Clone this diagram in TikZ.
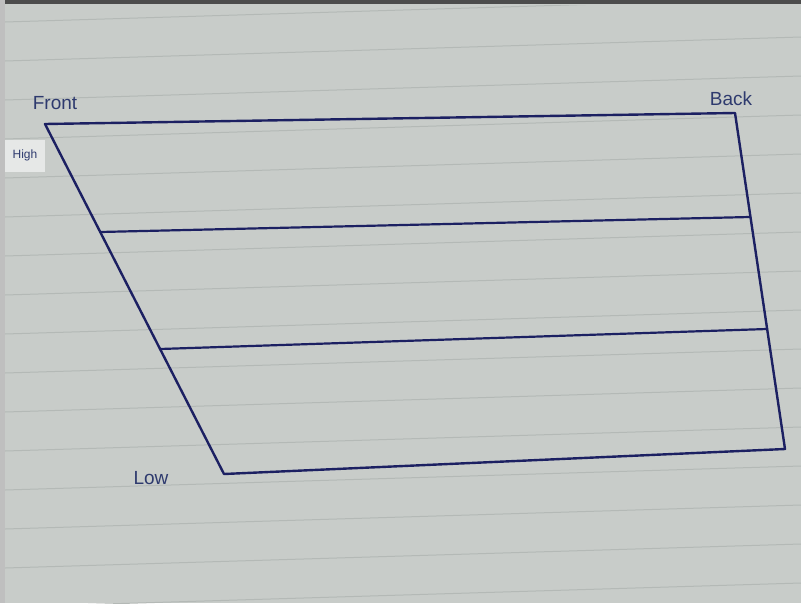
\documentclass[tikz,border=0pt]{standalone}
\usepackage{fontspec}
\setmainfont{Liberation Sans}
\definecolor{paper}{HTML}{C8CCC9}
\definecolor{rule}{HTML}{B4B9B6}
\definecolor{ink}{HTML}{1C2062}
\definecolor{pencil}{HTML}{2E3A6E}
\begin{document}
\begin{tikzpicture}[x=1pt,y=-1pt,
  outline/.style={draw=ink,line width=2.4pt,line join=round,line cap=round},
  divider/.style={draw=ink,line width=2.2pt,line cap=round},
  lbl/.style={text=pencil,font=\fontsize{19}{19}\selectfont,inner sep=0pt},
  smalllbl/.style={text=pencil,font=\fontsize{12}{12}\selectfont,inner sep=0pt}]
\useasboundingbox (0,0) rectangle (801,603);
\fill[paper] (0,0) rectangle (801,603);
% ruled lines of the paper
\begin{scope}
\clip (5,5) rectangle (801,603);
\foreach \k in {0,...,16}{
  \draw[rule,line width=1pt] (5,{22+39*\k}) -- (801,{22+39*\k-24});
}
\end{scope}
\fill[black!70] (0,0) rectangle (801,4);
\fill[black!25] (0,0) rectangle (5,603);
\fill[white!55!paper] (5,140) rectangle (45,172);
% corners
\coordinate (tl) at (45,124);
\coordinate (tr) at (735,113);
\coordinate (br) at (785,449);
\coordinate (bl) at (224,474);
\coordinate (a1) at (100,232);
\coordinate (b1) at (750,217);
\coordinate (a2) at (160,349);
\coordinate (b2) at (767,329);
\draw[outline] (tl) -- (tr) -- (br) -- (bl) -- cycle;
\draw[divider] (a1) -- (b1);
\draw[divider] (a2) -- (b2);
\node[lbl] (front) at (55,103) {Front};
\node[lbl] (back) at (731,99) {Back};
\node[smalllbl] (high) at (25,155) {High};
\node[lbl] (low) at (151,478) {Low};
\end{tikzpicture}
\end{document}
